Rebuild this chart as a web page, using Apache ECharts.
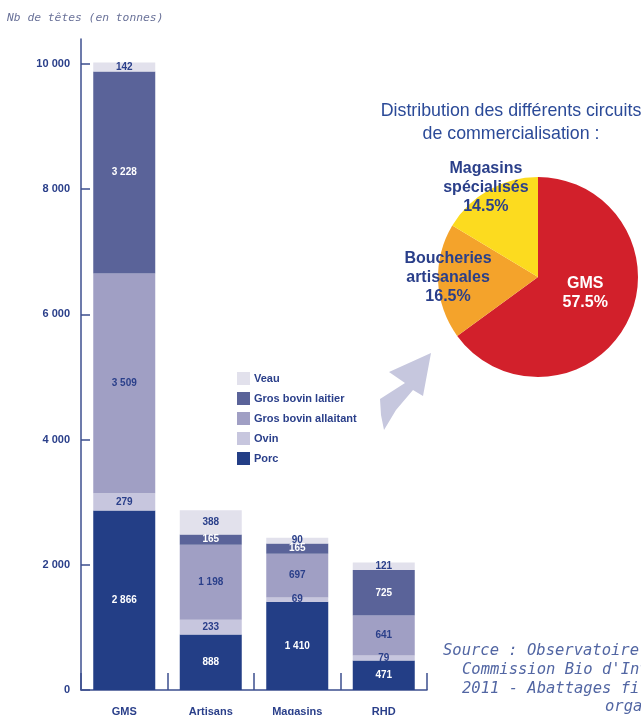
<!DOCTYPE html>
<html>
<head>
<meta charset="utf-8">
<script src="https://cdn.jsdelivr.net/npm/echarts@6/dist/echarts.min.js"></script>
<style>
html,body{margin:0;padding:0;background:#fff;}
#c{width:641px;height:715px;}
</style>
</head>
<body>
<div id="c"></div>
<script>
// ---- Data ----
const categories = ['GMS', 'Artisans\nbouchers', 'Magasins\nspécialisés', 'RHD'];
const porc = [2866, 888, 1410, 471];
const ovin = [279, 233, 69, 79];
const grosBovinAllaitant = [3509, 1198, 697, 641];
const grosBovinLaitier = [3228, 165, 165, 725];
const veau = [142, 388, 90, 121];
const yTicks = [0, 2000, 4000, 6000, 8000, 10000];

const pieNames = ['GMS', 'Boucheries\nartisanales', 'Magasins\nspécialisés'];
const pieValues = [57.5, 16.5, 14.5];

// ---- Styles ----
const navy = '#2a3f8a';
const colors = {
  veau: '#e2e1ec',
  laitier: '#5a6399',
  allaitant: '#a09fc4',
  ovin: '#c7c6de',
  porc: '#233e86'
};
const fmt = v => String(v).replace(/\B(?=(\d{3})+(?!\d))/g, ' ');

function barSeries(name, data, color, labelColor) {
  return {
    name, type: 'bar', stack: 'total', data,
    barWidth: 62,
    itemStyle: { color },
    label: {
      show: true, position: 'inside',
      fontFamily: 'Liberation Sans, Arial', fontWeight: 'bold', fontSize: 10,
      color: labelColor,
      formatter: p => fmt(p.value)
    },
    emphasis: { disabled: true }
  };
}

const chart = echarts.init(document.getElementById('c'), null, { renderer: 'canvas' });
chart.setOption({
  animation: false,
  title: {
    text: 'Distribution des différents circuits\nde commercialisation :',
    left: 506, top: 95, textAlign: 'center',
    textStyle: { fontFamily: 'Liberation Sans, Arial', fontWeight: 'normal', fontSize: 17.8, color: '#2b4a98', lineHeight: 23 }
  },
  legend: {
    orient: 'vertical', left: 237, top: 372, padding: 0,
    itemWidth: 13, itemHeight: 13, itemGap: 7,
    icon: 'rect',
    data: ['Veau', 'Gros bovin laitier', 'Gros bovin allaitant', 'Ovin', 'Porc'],
    textStyle: { fontFamily: 'Liberation Sans, Arial', fontWeight: 'bold', fontSize: 11, color: navy, padding: [0, 0, 0, -1] }
  },
  grid: { left: 81, right: 214, top: 39, bottom: 25, outerBoundsMode: 'none', containLabel: false },
  xAxis: {
    type: 'category', data: categories,
    axisLine: { lineStyle: { color: '#3d4f8f', width: 1.5 } },
    axisTick: { show: true, inside: true, length: 17, lineStyle: { color: '#3d4f8f', width: 1.5 } },
    axisLabel: { margin: 15, fontFamily: 'Liberation Sans, Arial', fontWeight: 'bold', fontSize: 11, color: navy, lineHeight: 13, interval: 0 }
  },
  yAxis: {
    type: 'value', min: 0, max: 10400, interval: 2000,
    splitLine: { show: false },
    axisLine: { show: true, lineStyle: { color: '#3d4f8f', width: 1.5 } },
    axisTick: { show: true, inside: true, length: 9, customValues: yTicks, lineStyle: { color: '#3d4f8f', width: 1.5 } },
    axisLabel: { margin: 11, customValues: yTicks, fontFamily: 'Liberation Sans, Arial', fontWeight: 'bold', fontSize: 11, color: navy, formatter: v => fmt(v) }
  },
  series: [
    barSeries('Porc', porc, colors.porc, '#ffffff'),
    barSeries('Ovin', ovin, colors.ovin, navy),
    barSeries('Gros bovin allaitant', grosBovinAllaitant, colors.allaitant, navy),
    barSeries('Gros bovin laitier', grosBovinLaitier, colors.laitier, '#ffffff'),
    barSeries('Veau', veau, colors.veau, navy),
    {
      type: 'pie', center: [538, 277], radius: 100, startAngle: 90, clockwise: true,
      silent: true,
      labelLine: { show: false },
      label: {
        position: 'inside', formatter: '{b}\n{c}%',
        fontFamily: 'Liberation Sans, Arial', fontWeight: 'bold', fontSize: 16, lineHeight: 19, color: navy
      },
      data: [
        { name: pieNames[0], value: pieValues[0], itemStyle: { color: '#d2202b' }, label: { color: '#ffffff', offset: [0, -8] } },
        { name: pieNames[1], value: pieValues[1], itemStyle: { color: '#f4a32b' }, label: { offset: [-37, -2] } },
        { name: pieNames[2], value: pieValues[2], itemStyle: { color: '#fcdb1f' }, label: { offset: [-26, -43] } }
      ]
    }
  ],
  graphic: [
    {
      type: 'polygon',
      shape: { points: [[431, 353], [389, 372], [405, 383], [380, 399], [381, 415], [384, 430], [396, 410], [413, 390], [423, 396]] },
      style: { fill: '#c6c7de' }, silent: true
    },
    {
      type: 'text', left: 7, top: 13,
      style: { text: 'Nb de têtes (en tonnes)', font: 'italic 11.3px "DejaVu Sans Mono", monospace', fill: '#6a7299' }
    },
    { type: 'text', x: 443, y: 643, style: { text: 'Source : Observatoire régional', font: 'italic 15.5px "DejaVu Sans Mono", monospace', fill: '#5266a3' } },
    { type: 'text', x: 462, y: 662, style: { text: "Commission Bio d'Interbev", font: 'italic 15.5px "DejaVu Sans Mono", monospace', fill: '#5266a3' } },
    { type: 'text', x: 462, y: 681, style: { text: '2011 - Abattages filières', font: 'italic 15.5px "DejaVu Sans Mono", monospace', fill: '#5266a3' } },
    { type: 'text', x: 605, y: 699, style: { text: 'organisées', font: 'italic 15.5px "DejaVu Sans Mono", monospace', fill: '#5266a3' } }
  ]
});
</script>
</body>
</html>
